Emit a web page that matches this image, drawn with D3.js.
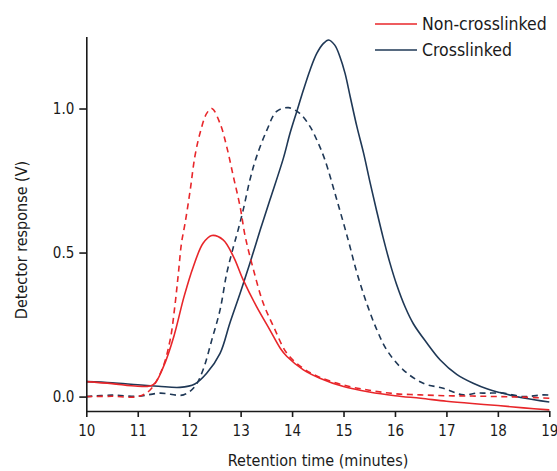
<!DOCTYPE html>
<html>
<head>
<meta charset="utf-8">
<script src="https://cdn.jsdelivr.net/npm/d3@7"></script>
<style>
  body { margin: 0; background: #fff; }
  svg text { font-family: "Liberation Sans Narrow", "DejaVu Sans Condensed", "Arial Narrow", sans-serif; fill: #1a1a1a; }
</style>
</head>
<body>
<svg class="main-svg"></svg>
<script>
// retention time (min) and detector response (V)
var nonXTime = [10, 10.5, 11, 11.3, 11.5, 11.7, 11.9, 12.08, 12.27, 12.44, 12.66, 12.86, 13.05, 13.31, 13.57, 13.77, 13.9, 14.22, 14.54, 15, 15.5, 16, 16.5, 17, 17.5, 18, 18.5, 19];
var nonXSolid = [0.052, 0.045, 0.036, 0.041, 0.104, 0.208, 0.347, 0.451, 0.532, 0.559, 0.544, 0.486, 0.405, 0.312, 0.231, 0.168, 0.139, 0.093, 0.064, 0.035, 0.016, 0.003, -0.006, -0.016, -0.024, -0.031, -0.039, -0.046];

var nonXNormTime = [10, 10.5, 11, 11.24, 11.47, 11.63, 11.72, 11.79, 11.85, 11.92, 12.02, 12.11, 12.21, 12.34, 12.44, 12.6, 12.73, 12.86, 12.99, 13.09, 13.25, 13.44, 13.64, 13.9, 14.2, 14.5, 15, 15.5, 16, 16.5, 17, 17.5, 18, 18.5, 19];
var nonXDashed = [0.0, 0.001, 0.0, 0.023, 0.093, 0.197, 0.312, 0.428, 0.532, 0.602, 0.717, 0.833, 0.914, 0.983, 1.0, 0.948, 0.867, 0.763, 0.659, 0.555, 0.44, 0.324, 0.243, 0.15, 0.1, 0.07, 0.04, 0.022, 0.01, 0.006, 0.003, 0.002, 0.0, -0.002, -0.006];

var xTime = [10, 10.5, 11, 11.4, 11.82, 12.11, 12.34, 12.6, 12.79, 12.99, 13.18, 13.38, 13.57, 13.83, 13.96, 14.09, 14.22, 14.35, 14.48, 14.61, 14.71, 14.83, 14.93, 15.03, 15.13, 15.26, 15.39, 15.52, 15.65, 15.77, 15.9, 16.03, 16.2, 16.36, 16.62, 16.88, 17.2, 17.52, 17.8, 18.04, 18.5, 19];
var xSolid = [0.052, 0.048, 0.041, 0.036, 0.032, 0.044, 0.081, 0.15, 0.255, 0.359, 0.463, 0.578, 0.683, 0.827, 0.914, 0.989, 1.064, 1.134, 1.191, 1.226, 1.238, 1.22, 1.18, 1.122, 1.041, 0.937, 0.845, 0.74, 0.64, 0.552, 0.465, 0.39, 0.31, 0.252, 0.186, 0.127, 0.077, 0.046, 0.026, 0.014, -0.005, -0.019];

var xNormTime = [10, 10.5, 11, 11.43, 11.89, 12.11, 12.27, 12.44, 12.6, 12.73, 12.86, 12.95, 13.05, 13.18, 13.31, 13.51, 13.7, 13.93, 14.15, 14.35, 14.51, 14.64, 14.87, 15.09, 15.26, 15.45, 15.65, 15.84, 16.16, 16.55, 16.94, 17.33, 17.59, 17.78, 18.1, 18.5, 18.88, 19];
var xDashed = [0.0, 0.005, 0.001, 0.012, 0.006, 0.035, 0.093, 0.197, 0.301, 0.428, 0.52, 0.578, 0.648, 0.752, 0.833, 0.925, 0.99, 1.003, 0.983, 0.937, 0.879, 0.821, 0.683, 0.544, 0.43, 0.324, 0.231, 0.162, 0.093, 0.046, 0.029, 0.006, 0.012, 0.012, 0.012, 0.0, 0.006, 0.005];

var xMajorTicks = [10, 11, 12, 13, 14, 15, 16, 17, 18, 19];
var xMinorTicks = [10.5, 11.5, 12.5, 13.5, 14.5, 15.5, 16.5, 17.5, 18.5];
var yMajorTicks = [0, 0.5, 1.0];
var yMinorTicks = [0.25, 0.75, 1.25];

var seriesNames = ['Non-crosslinked', 'Crosslinked'];

var red = '#e8262a',
    navy = '#1f3856',
    width = 557,
    height = 471;

var d3 = window.d3;

var svg = d3.select('.main-svg')
      .attr('width', width)
      .attr('height', height);

var x = d3.scaleLinear().domain([10, 19]).range([86.3, 549.3]);
var y = d3.scaleLinear().domain([-0.05, 1.25]).range([411, 36.5]);

function toPoints(ts, vs) {
  return ts.map((t, i) => [t, vs[i]]);
}

var line = d3.line()
      .x(d => x(d[0]))
      .y(d => y(d[1]))
      .curve(d3.curveCatmullRom.alpha(0.5));

var series = [
  { pts: toPoints(xNormTime, xDashed), colour: navy, dash: '6,4.5' },
  { pts: toPoints(xTime, xSolid), colour: navy, dash: null },
  { pts: toPoints(nonXNormTime, nonXDashed), colour: red, dash: '6,4.5' },
  { pts: toPoints(nonXTime, nonXSolid), colour: red, dash: null }
];

svg.append('g').selectAll('path')
  .data(series)
  .enter()
  .append('path')
  .attr('d', d => line(d.pts))
  .attr('fill', 'none')
  .attr('stroke', d => d.colour)
  .attr('stroke-width', 1.6)
  .attr('stroke-dasharray', d => d.dash);

// axes
var gx = svg.append('g').attr('transform', 'translate(0,' + y.range()[0] + ')');
gx.call(d3.axisBottom(x).tickValues(xMinorTicks).tickSize(4).tickFormat('').tickSizeOuter(0));
gx.call(d3.axisBottom(x).tickValues(xMajorTicks).tickSize(6).tickPadding(8).tickFormat(d3.format('d')).tickSizeOuter(0));

var gy = svg.append('g').attr('transform', 'translate(' + x.range()[0] + ',0)');
gy.call(d3.axisLeft(y).tickValues(yMinorTicks).tickSize(4).tickFormat('').tickSizeOuter(0));
gy.call(d3.axisLeft(y).tickValues(yMajorTicks).tickSize(7).tickPadding(5).tickFormat(d3.format('.1f')).tickSizeOuter(0));

svg.selectAll('.domain, .tick line')
  .attr('stroke', '#1a1a1a')
  .attr('stroke-width', 1.6);
svg.selectAll('.tick text')
  .style('font-size', '15px')
  .attr('fill', '#1a1a1a');

// axis titles
svg.append('text')
  .attr('x', 318)
  .attr('y', 466)
  .attr('text-anchor', 'middle')
  .style('font-size', '16px')
  .text('Retention time (minutes)');

svg.append('text')
  .attr('transform', 'translate(27,240) rotate(-90)')
  .attr('text-anchor', 'middle')
  .style('font-size', '16px')
  .text('Detector response (V)');

// legend
var legend = svg.append('g').selectAll('g')
  .data(seriesNames)
  .enter()
  .append('g')
  .attr('transform', (d, i) => 'translate(375,' + (24 + i * 26) + ')');

legend.append('line')
  .attr('x1', 0).attr('x2', 42)
  .attr('stroke', (d, i) => i === 0 ? red : navy)
  .attr('stroke-width', 1.6);

legend.append('text')
  .attr('x', 47)
  .attr('y', 6.3)
  .style('font-size', '17.5px')
  .text(d => d);
</script>
</body>
</html>
